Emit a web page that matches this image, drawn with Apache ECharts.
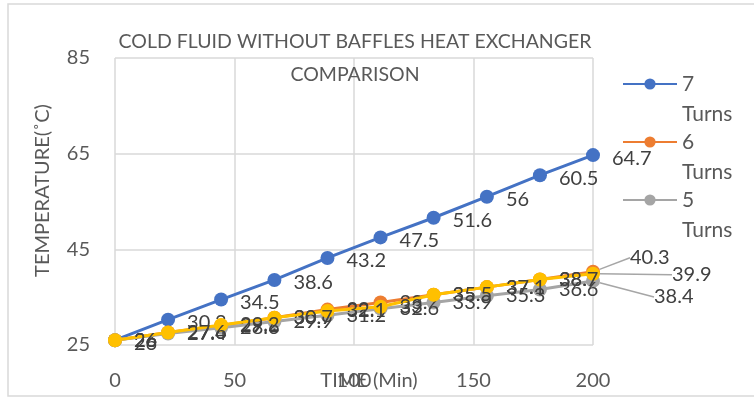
<!DOCTYPE html>
<html>
<head>
<meta charset="utf-8">
<script src="https://cdn.jsdelivr.net/npm/echarts@6/dist/echarts.min.js"></script>
<style>
  html, body { margin: 0; padding: 0; background: #fff; }
  #chart { width: 754px; height: 398px; }
</style>
</head>
<body>
<div id="chart"></div>
<script>
// time points (min) and temperatures per number of turns
var timeMin = [0, 22.2, 44.4, 66.7, 88.9, 111.1, 133.3, 155.6, 177.8, 200];
var turns7 = [26, 30.3, 34.5, 38.6, 43.2, 47.5, 51.6, 56, 60.5, 64.7];
var turns6 = [26, 27.6, 29.1, 30.7, 32.4, 33.9, 35.5, 37.1, 38.7, 40.3];
var turns5 = [26, 27.4, 28.6, 29.9, 31.2, 32.6, 33.9, 35.3, 36.6, 38.4];
var turnsExtra = [26, 27.6, 29.2, 30.7, 32.1, 33.0, 35.5, 37.1, 38.7, 39.9]; // yellow, not in legend
var seriesNames = ['7 Turns', '6 Turns', '5 Turns', ''];
var xMin = 0, xMax = 200, xStep = 50;
var yMin = 25, yMax = 85, yStep = 20;

var font = 'Lato, "Open Sans", sans-serif';

// [time, temp] pairs; the last point may get a guide line for its moved label
function pairs(ys, withGuide) {
  return ys.map(function (v, i) {
    var item = { value: [timeMin[i], v] };
    if (withGuide && i === ys.length - 1) item.labelLine = { show: true };
    return item;
  });
}

function lastLabelShift(dx, dy) {
  return function (p) {
    if (p.dataIndex === timeMin.length - 1) return { dx: dx, dy: dy };
    return {};
  };
}

function makeSeries(name, ys, color, z, shift) {
  var s = {
    name: name,
    type: 'line',
    data: pairs(ys, !!shift),
    symbol: 'circle',
    symbolSize: 14,
    z: z,
    lineStyle: { color: color, width: 3 },
    itemStyle: { color: color },
    label: {
      show: true,
      position: 'right',
      distance: 12,
      offset: [0, 3],
      color: '#404040',
      fontSize: 20,
      fontFamily: font
    },
    labelLine: { show: false, lineStyle: { color: '#a6a6a6', width: 1.5 } },
    emphasis: { disabled: true },
    animation: false
  };
  if (shift) s.labelLayout = lastLabelShift(shift[0], shift[1]);
  return s;
}

var chart = echarts.init(document.getElementById('chart'));
chart.setOption({
  backgroundColor: '#fff',
  title: {
    text: 'COLD FLUID WITHOUT BAFFLES HEAT EXCHANGER\nCOMPARISON',
    left: 350,
    textAlign: 'center',
    top: 20,
    textStyle: {
      color: '#595959',
      fontSize: 19.5,
      fontWeight: 'normal',
      fontFamily: font,
      lineHeight: 33
    }
  },
  legend: {
    orient: 'vertical',
    left: 617,
    top: 34,
    data: seriesNames.slice(0, 3),
    itemWidth: 54,
    itemHeight: 14,
    itemGap: -32,
    // blank first line keeps the number level with the icon
    formatter: function (n) { return ' \n' + n.replace(' ', '\n'); },
    textStyle: {
      color: '#595959',
      fontSize: 21,
      fontFamily: font,
      lineHeight: 30
    }
  },
  grid: { left: 115, right: 161, top: 58, bottom: 53, outerBoundsMode: 'none' },
  xAxis: {
    type: 'value',
    min: xMin, max: xMax, interval: xStep,
    name: 'TIME (Min)',
    nameLocation: 'middle',
    nameGap: 26,
    nameMoveOverlap: false,
    nameTextStyle: { color: '#595959', fontSize: 20, fontFamily: font, padding: [0, 0, 0, 30] },
    axisLine: { show: false },
    axisTick: { show: false },
    axisLabel: { color: '#595959', fontSize: 20, fontFamily: font, margin: 26 },
    splitLine: { show: true, lineStyle: { color: '#d9d9d9', width: 1.5 } }
  },
  yAxis: {
    type: 'value',
    min: yMin, max: yMax, interval: yStep,
    name: 'TEMPERATURE(˚C)',
    nameLocation: 'middle',
    nameGap: 62,
    nameMoveOverlap: false,
    nameTextStyle: { color: '#595959', fontSize: 20, fontFamily: font, padding: [0, 0, 0, 22] },
    axisLine: { show: false },
    axisTick: { show: false },
    axisLabel: { color: '#595959', fontSize: 20, fontFamily: font, margin: 25 },
    splitLine: { show: true, lineStyle: { color: '#d9d9d9', width: 1.5 } }
  },
  graphic: [{
    type: 'rect',
    shape: { x: 8, y: 4, width: 760, height: 392 },
    style: { fill: 'none', stroke: '#d9d9d9', lineWidth: 1.5 },
    silent: true,
    z: -1
  }],
  series: [
    makeSeries(seriesNames[0], turns7, '#4472C4', 2),
    makeSeries(seriesNames[1], turns6, '#ED7D31', 3, [18, -14]),
    makeSeries(seriesNames[2], turns5, '#A5A5A5', 4, [42, 16]),
    makeSeries(seriesNames[3], turnsExtra, '#FFC000', 5, [60, 1])
  ]
});
</script>
</body>
</html>
